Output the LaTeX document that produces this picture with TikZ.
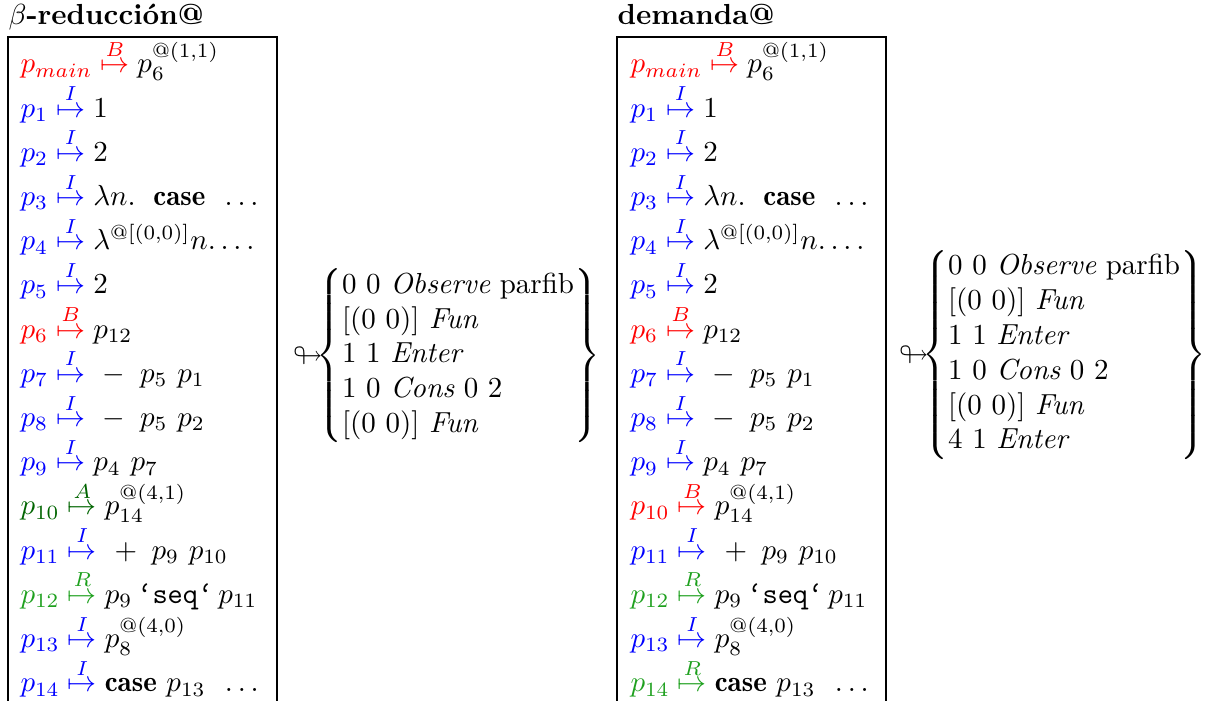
\documentclass[tikz,border=0pt]{standalone}
\usepackage{amsmath,amssymb}
\usepackage{fontspec}
\definecolor{cR}{RGB}{255,0,0}
\definecolor{cB}{RGB}{0,0,255}
\definecolor{cA}{RGB}{0,100,0}
\definecolor{cG}{RGB}{30,160,30}
\newcommand{\asgrow}[4]{$\textcolor{#1}{#2}\mathrel{\textcolor{#1}{\overset{#3}{\mapsto}}}#4$}
\tikzset{
  rowtxt/.style={anchor=base west, inner sep=0pt},
  headtxt/.style={anchor=base west, inner sep=0pt, font=\bfseries},
  frameline/.style={line width=0.9pt},
  grp/.style={anchor=west, inner sep=0pt}
}
\begin{document}
\begin{tikzpicture}[x=0.3448pt,y=-0.3448pt]
\useasboundingbox (0,0) rectangle (1212,701);
% headings
\node[headtxt] (h1) at (8,25) {$\beta$-reducción@};
\node[headtxt] (h2) at (617,25) {demanda@};
% frames
\coordinate (a1) at (8,705); \coordinate (a2) at (8,37);
\coordinate (a3) at (277,37); \coordinate (a4) at (277,705);
\draw[frameline] (a1) -- (a2) -- (a3) -- (a4);
\coordinate (b1) at (617,705); \coordinate (b2) at (617,37);
\coordinate (b3) at (886,37); \coordinate (b4) at (886,705);
\draw[frameline] (b1) -- (b2) -- (b3) -- (b4);
% rows common to both boxes
\foreach \bx/\pre in {20/l,630/r}{
\node[rowtxt] (\pre0) at (\bx,73) {\asgrow{cR}{p_{main}}{B}{p_6^{\text{@(1,1)}}}};
\node[rowtxt] (\pre1) at (\bx,117.2) {\asgrow{cB}{p_1}{I}{1}};
\node[rowtxt] (\pre2) at (\bx,161.4) {\asgrow{cB}{p_2}{I}{2}};
\node[rowtxt] (\pre3) at (\bx,205.6) {\asgrow{cB}{p_3}{I}{\lambda n.\ \;\mathbf{case}\ \,\ldots}};
\node[rowtxt] (\pre4) at (\bx,249.8) {\asgrow{cB}{p_4}{I}{\lambda^{\text{@[(0,0)]}}n.\ldots}};
\node[rowtxt] (\pre5) at (\bx,294) {\asgrow{cB}{p_5}{I}{2}};
\node[rowtxt] (\pre6) at (\bx,338.2) {\asgrow{cR}{p_6}{B}{p_{12}}};
\node[rowtxt] (\pre7) at (\bx,382.4) {\asgrow{cB}{p_7}{I}{\ {-}\ \,p_5\ p_1}};
\node[rowtxt] (\pre8) at (\bx,426.6) {\asgrow{cB}{p_8}{I}{\ {-}\ \,p_5\ p_2}};
\node[rowtxt] (\pre9) at (\bx,470.8) {\asgrow{cB}{p_9}{I}{p_4\ p_7}};
\node[rowtxt] (\pre11) at (\bx,559.2) {\asgrow{cB}{p_{11}}{I}{\ {+}\ \,p_9\ p_{10}}};
\node[rowtxt] (\pre12) at (\bx,603.4) {\asgrow{cG}{p_{12}}{R}{p_9\,\texttt{‘seq‘}\,p_{11}}};
\node[rowtxt] (\pre13) at (\bx,647.6) {\asgrow{cB}{p_{13}}{I}{p_8^{\text{@(4,0)}}}};
}
\node[rowtxt] (l10) at (20,515) {\asgrow{cA}{p_{10}}{A}{p_{14}^{\text{@(4,1)}}}};
\node[rowtxt] (l14) at (20,691.8) {\asgrow{cB}{p_{14}}{I}{\mathbf{case}\ p_{13}\ \,\ldots}};
\node[rowtxt] (r10) at (630,515) {\asgrow{cR}{p_{10}}{B}{p_{14}^{\text{@(4,1)}}}};
\node[rowtxt] (r14) at (630,691.8) {\asgrow{cG}{p_{14}}{R}{\mathbf{case}\ p_{13}\ \,\ldots}};
% groups
\node[grp] (g1) at (293,356) {$\looparrowright\!\!\kern-1.6pt\left\{\begin{array}{@{}l@{}}
0\ 0\ \textit{Observe}\ \text{parfib}\\
{[}(0\ 0){]}\ \textit{Fun}\\
1\ 1\ \textit{Enter}\\
1\ 0\ \textit{Cons}\ 0\ 2\\
{[}(0\ 0){]}\ \textit{Fun}
\end{array}\right\}$};
\node[grp] (g2) at (899,355) {$\looparrowright\!\!\kern-1.6pt\left\{\begin{array}{@{}l@{}}
0\ 0\ \textit{Observe}\ \text{parfib}\\
{[}(0\ 0){]}\ \textit{Fun}\\
1\ 1\ \textit{Enter}\\
1\ 0\ \textit{Cons}\ 0\ 2\\
{[}(0\ 0){]}\ \textit{Fun}\\
4\ 1\ \textit{Enter}
\end{array}\right\}$};
\end{tikzpicture}
\end{document}
